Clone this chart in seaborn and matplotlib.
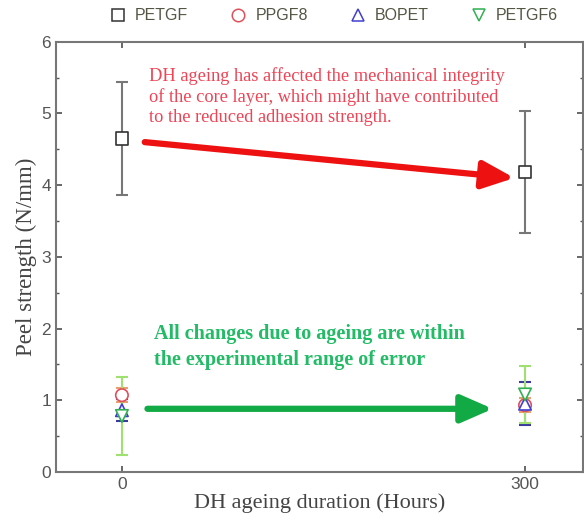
import numpy as np
import pandas as pd
import matplotlib
matplotlib.use("Agg")
import matplotlib.pyplot as plt
from matplotlib.lines import Line2D
import seaborn as sns

# Peel strength data (N/mm) after DH ageing
hours = [0, 300]
samples = ["PETGF", "PPGF8", "BOPET", "PETGF6"]
petgf_mean = [4.65, 4.18]
petgf_err = [0.79, 0.85]
ppgf8_mean = [1.07, 0.93]
ppgf8_err = [0.10, 0.10]
bopet_mean = [0.86, 0.95]
bopet_err = [0.15, 0.30]
petgf6_mean = [0.78, 1.08]
petgf6_err = [0.55, 0.40]

means = {"PETGF": petgf_mean, "PPGF8": ppgf8_mean, "BOPET": bopet_mean, "PETGF6": petgf6_mean}
errs = {"PETGF": petgf_err, "PPGF8": ppgf8_err, "BOPET": bopet_err, "PETGF6": petgf6_err}

rows = []
for s in samples:
    for h, m, e in zip(hours, means[s], errs[s]):
        rows.append({"hours": h, "sample": s, "strength": m, "err": e})
df = pd.DataFrame(rows)

marker_colors = {"PETGF": "#333333", "PPGF8": "#e0505a", "BOPET": "#4040d0", "PETGF6": "#30b050"}
bar_colors = {"PETGF": "#777777", "PPGF8": "#e8a070", "BOPET": "#3a3aa0", "PETGF6": "#a0e070"}
markers = {"PETGF": "s", "PPGF8": "o", "BOPET": "^", "PETGF6": "v"}

sns.set_theme(style="ticks")
plt.rcParams["font.family"] = ["Liberation Sans", "DejaVu Sans"]

fig = plt.figure(figsize=(5.84, 5.22), dpi=100)
ax = fig.add_axes([0.096, 0.096, 0.902, 0.824])

for s in samples:
    d = df[df["sample"] == s]
    ax.errorbar(d["hours"], d["strength"], yerr=d["err"], fmt="none",
                ecolor=bar_colors[s], elinewidth=1.5, capsize=4, capthick=1.5, zorder=2)

sns.scatterplot(data=df, x="hours", y="strength", hue="sample", style="sample",
                hue_order=samples, style_order=samples, palette=marker_colors,
                markers=markers, s=80, linewidth=1.2, ax=ax, zorder=3, legend=False)
# hollow markers with coloured edges
for c in ax.collections:
    fc = c.get_facecolors()
    if len(fc):
        c.set_edgecolors(fc)
        c.set_facecolors("white")

ax.set_xlim(-49, 343)
ax.set_ylim(0, 6)
ax.set_xticks(hours)
ax.set_yticks(range(0, 7))
ax.set_yticks(np.arange(0.5, 6, 1.0), minor=True)
ax.tick_params(axis="both", which="both", direction="in", top=True, right=True,
               colors="#555555", labelsize=12.5, labelcolor="#555555")
ax.tick_params(which="major", length=4)
ax.tick_params(which="minor", length=2.5)
for sp in ax.spines.values():
    sp.set_color("#777777")
    sp.set_linewidth(1.5)

serif = ["Liberation Serif", "DejaVu Serif"]
ax.set_xlabel("DH ageing duration (Hours)", family=serif, fontsize=16, color="#444444", labelpad=1)
ax.set_ylabel("Peel strength (N/mm)", family=serif, fontsize=16.5, color="#444444", labelpad=3)

# Annotations
ax.text(20, 5.64, "DH ageing has affected the mechanical integrity\n"
        "of the core layer, which might have contributed\n"
        "to the reduced adhesion strength.",
        family=serif, fontsize=13.2, color="#ee4455", va="top", ha="left", linespacing=1.2)
ax.annotate("", xy=(292, 4.1), xytext=(17, 4.6),
            arrowprops=dict(arrowstyle="-|>,head_width=0.7,head_length=1.6",
                            color="#ee1111", lw=4.5, shrinkA=0, shrinkB=0))
ax.text(24, 2.06, "All changes due to ageing are within\nthe experimental range of error",
        family=serif, fontsize=14.5, fontweight="bold", color="#22bb66", va="top", ha="left",
        linespacing=1.4)
ax.annotate("", xy=(276, 0.88), xytext=(19, 0.88),
            arrowprops=dict(arrowstyle="-|>,head_width=0.7,head_length=1.6",
                            color="#11aa44", lw=4.5, shrinkA=0, shrinkB=0))

# Legend across the top
handles = [Line2D([], [], linestyle="none", marker=markers[s], markersize=9,
                  markerfacecolor="white", markeredgecolor=marker_colors[s], markeredgewidth=1.1)
           for s in samples]
fig.legend(handles, samples, loc="upper center", bbox_to_anchor=(0.565, 1.012), ncol=4,
           frameon=False, fontsize=11.5, handletextpad=0.1, columnspacing=2.1,
           labelcolor="#555544")

fig.savefig("out.png", dpi=100)
